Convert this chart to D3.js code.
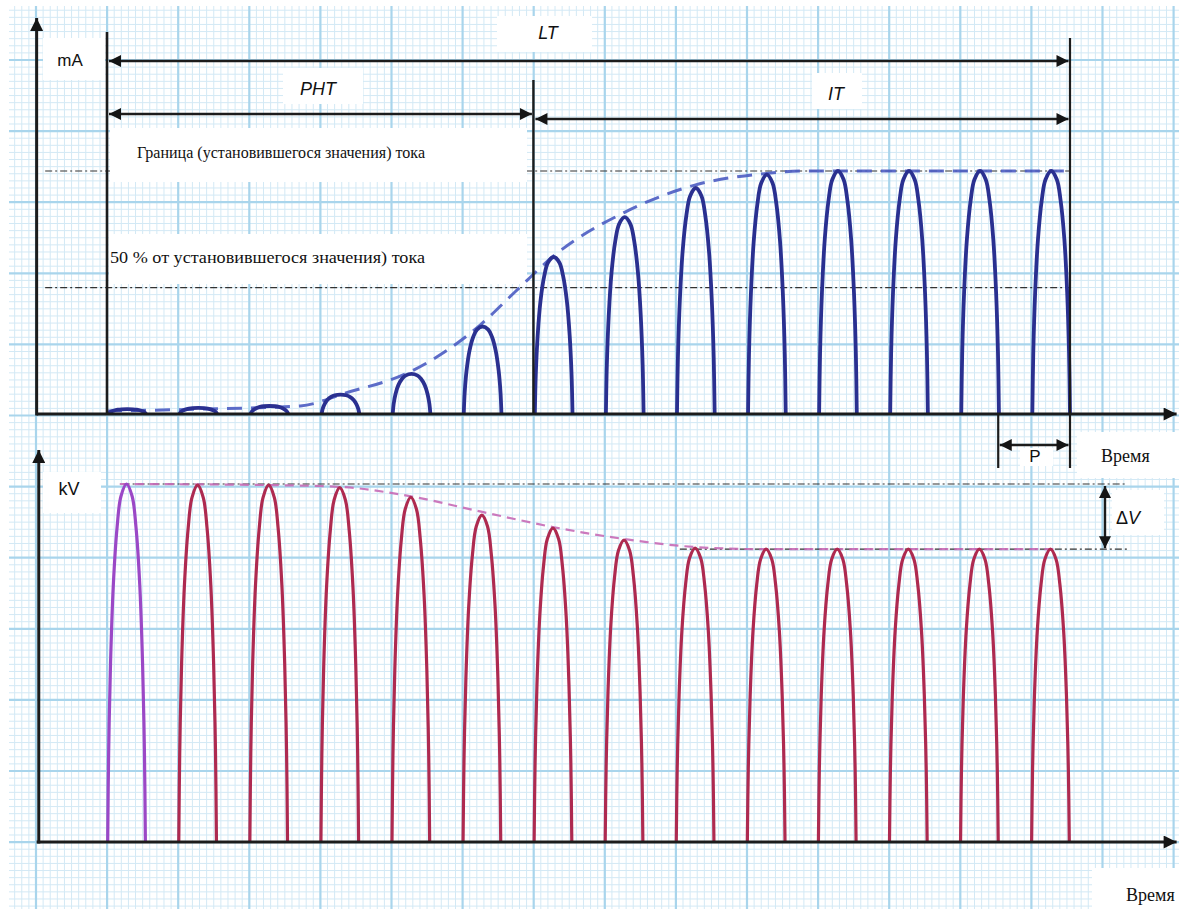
<!DOCTYPE html>
<html>
<head>
<meta charset="UTF-8">
<title>Ток и напряжение</title>
<style>
  html, body { margin: 0; padding: 0; background: #fff; }
  svg { display: block; }
  .serif { font-family: "Liberation Serif", "DejaVu Serif", serif; fill: #111; }
  .sans { font-family: "Liberation Sans", Arial, sans-serif; fill: #111; }
</style>
</head>
<body>
<div id="chart"></div>
<script src="https://d3js.org/d3.v7.min.js"></script>
<script>
// pulse number, time in periods P
const pulseIndex = [0, 1, 2, 3, 4, 5, 6, 7, 8, 9, 10, 11, 12, 13];
// peak current as share of the steady value
const currentPeaks = [0.02, 0.025, 0.033, 0.08, 0.165, 0.36, 0.646, 0.81, 0.93, 0.985, 1.0, 1.0, 1.0, 1.0];
// peak voltage as share of the no-load value
const voltagePeaks = [1.0, 0.997, 0.997, 0.99, 0.963, 0.913, 0.877, 0.843, 0.821, 0.818, 0.818, 0.818, 0.818, 0.818];

// dashed envelopes
const currentEnvT = [0, 1.31, 2.72, 3.35, 4.26, 5.25, 5.74, 6.3, 7.29, 8.27, 9.28, 9.75, 13.55];
const currentEnvV = [0.012, 0.02, 0.033, 0.086, 0.173, 0.366, 0.502, 0.654, 0.831, 0.942, 0.99, 1.0, 1.0];
const voltageEnvT = [0.18, 2.3, 3.28, 4.26, 5.28, 6.27, 7.29, 8.27, 9.2, 13.4];
const voltageEnvV = [1.0, 0.997, 0.992, 0.966, 0.922, 0.88, 0.846, 0.824, 0.818, 0.818];

// reference levels
const currentLevels = [1.0, 0.52];
const voltageLevels = [1.0, 0.818];

// time spans
const spanNames = ["LT", "PHT", "IT"];
const spanStart = [0, 0, 6];
const spanEnd = [13.55, 6, 13.55];

const W = 1179, H = 909;
const svg = d3.select("#chart").append("svg").attr("width", W).attr("height", H);

const x = d3.scaleLinear().domain([0, 13.55]).range([107, 1070]);
const yI = d3.scaleLinear().domain([0, 1]).range([414, 171]);
const yU = d3.scaleLinear().domain([0, 1]).range([842, 484]);

// graph paper
const step = 7.11;
const grid = svg.append("g");
const vx = d3.range(-3, 161).map(i => ({ p: 36 + i * step, major: i % 10 === 0 })).filter(d => d.p > 9 && d.p < W);
const hy = d3.range(-7, 122).map(i => ({ p: 60 + i * step, major: ((i % 10) + 10) % 10 === 0 })).filter(d => d.p > 6 && d.p < H);
[false, true].forEach(maj => {
  grid.selectAll(null).data(vx.filter(d => d.major === maj)).enter().append("line")
    .attr("x1", d => d.p).attr("x2", d => d.p).attr("y1", 6).attr("y2", H)
    .attr("stroke", maj ? "#a9d5ec" : "#d3e9f5").attr("stroke-width", maj ? 2.2 : 1);
  grid.selectAll(null).data(hy.filter(d => d.major === maj)).enter().append("line")
    .attr("y1", d => d.p).attr("y2", d => d.p).attr("x1", 9).attr("x2", W)
    .attr("stroke", maj ? "#a9d5ec" : "#d3e9f5").attr("stroke-width", maj ? 2.2 : 1);
});

// arrow heads
const defs = svg.append("defs");
function marker(id, w, h) {
  defs.append("marker").attr("id", id).attr("viewBox", "0 0 10 10")
    .attr("refX", 10).attr("refY", 5).attr("markerWidth", w).attr("markerHeight", h)
    .attr("markerUnits", "userSpaceOnUse").attr("orient", "auto-start-reverse")
    .append("path").attr("d", "M0,0L10,5L0,10z").attr("fill", "#151515");
}
marker("axisArrow", 16, 13);
marker("dimArrow", 17, 12);

const ink = "#1c1c1c";
function seg(x1, y1, x2, y2, w, opts) {
  const l = svg.append("line").attr("x1", x1).attr("y1", y1).attr("x2", x2).attr("y2", y2)
    .attr("stroke", ink).attr("stroke-width", w);
  if (opts && opts.start) l.attr("marker-start", "url(#" + opts.start + ")");
  if (opts && opts.end) l.attr("marker-end", "url(#" + opts.end + ")");
  if (opts && opts.dash) l.attr("stroke-dasharray", opts.dash).attr("stroke", "#333");
  return l;
}

// level lines (dash-dot)
const dashDot = "7,3,2,3";
currentLevels.forEach(v => seg(x(-0.87), yI(v), x(13.55), yI(v), 1.2, { dash: dashDot }));
seg(x(0.22), yU(voltageLevels[0]), x(14.35), yU(voltageLevels[0]), 1.2, { dash: dashDot });
seg(x(8.06), yU(voltageLevels[1]), x(14.35), yU(voltageLevels[1]), 1.2, { dash: dashDot });

// white label boxes
const boxes = [
  [497, 16, 95, 36], [283, 68, 80, 36], [812, 73, 50, 36], [43, 38, 62, 42],
  [110, 128, 417, 54], [109, 234, 418, 50],
  [1020, 448, 33, 18], [1077, 432, 102, 46], [1112, 490, 52, 45],
  [43, 472, 58, 41], [1092, 868, 87, 41]
];
svg.selectAll(null).data(boxes).enter().append("rect")
  .attr("x", d => d[0]).attr("y", d => d[1]).attr("width", d => d[2]).attr("height", d => d[3])
  .attr("fill", "#fff");

// pulse outline (normalised): steep sides, rounded top
const profile = [[0, 0], [0.025, 0.25], [0.075, 0.5], [0.15, 0.72], [0.25, 0.88], [0.35, 0.965],
  [0.5, 1], [0.65, 0.965], [0.75, 0.88], [0.85, 0.72], [0.925, 0.5], [0.975, 0.25], [1, 0]];
const pulseW = 0.53;
const line = d3.line().curve(d3.curveCatmullRom.alpha(0.5));

// envelopes
const envLine = d3.line().curve(d3.curveMonotoneX);
svg.append("path")
  .attr("d", envLine(currentEnvT.map((t, i) => [x(t), yI(currentEnvV[i])])))
  .attr("fill", "none").attr("stroke", "#4b5cc2").attr("stroke-width", 3)
  .attr("stroke-dasharray", "15,9").attr("stroke-opacity", 0.9);
svg.append("path")
  .attr("d", envLine(voltageEnvT.map((t, i) => [x(t), yU(voltageEnvV[i])])))
  .attr("fill", "none").attr("stroke", "#c66ab6").attr("stroke-width", 2.2)
  .attr("stroke-dasharray", "9,6").attr("stroke-opacity", 0.9);

// current pulses
svg.append("g").selectAll("path").data(pulseIndex).enter().append("path")
  .attr("d", k => line(profile.map(([u, v]) => [x(k + 0.02 + u * pulseW), yI(v * currentPeaks[k])])))
  .attr("fill", "none").attr("stroke", "#2a3090").attr("stroke-width", 3.8)
  .attr("stroke-linejoin", "round");

// voltage pulses
svg.append("g").selectAll("path").data(pulseIndex).enter().append("path")
  .attr("d", k => line(profile.map(([u, v]) => [x(k + 0.01 + u * pulseW), yU(v * voltagePeaks[k])])))
  .attr("fill", "none").attr("stroke", k => k === 0 ? "#9b48c6" : "#ae2a50").attr("stroke-width", 3.2)
  .attr("stroke-linejoin", "round");

// axes
seg(x(-0.99), yI(0), x(15.05), yI(0), 3, { end: "axisArrow" });
seg(x(-0.99), yI(0) + 1.5, x(-0.99), yI(1.63), 3, { end: "axisArrow" });
seg(x(-0.99), yU(0), x(15.05), yU(0), 3, { end: "axisArrow" });
seg(x(-0.96), yU(0) + 1.5, x(-0.96), yU(1.095), 3, { end: "axisArrow" });

// boundary lines
seg(x(0), 32, x(0), yI(0), 2.6);
seg(x(6), 80, x(6), yI(0), 2.4);
seg(x(13.55), 38, x(13.55), 468, 2.2);
seg(x(12.54), yI(0), x(12.54), 468, 2.2);

// span arrows
const spanY = [61, 114, 119];
spanNames.forEach((n, i) => {
  seg(x(spanStart[i]) + 2, spanY[i], x(spanEnd[i]) - 1.5, spanY[i], 2.6, { start: "dimArrow", end: "dimArrow" });
});
// P and ΔV arrows
seg(x(12.54) + 1.5, 445, x(13.55) - 1.5, 445, 2.4, { start: "dimArrow", end: "dimArrow" });
seg(1105, yU(voltageLevels[0]) + 2, 1105, yU(voltageLevels[1]) - 1, 2.4, { start: "dimArrow", end: "dimArrow" });

// labels
function label(txt, cls, px, py, size, anchor, italic) {
  return svg.append("text").attr("class", cls).attr("x", px).attr("y", py)
    .attr("font-size", size).attr("text-anchor", anchor || "start")
    .attr("font-style", italic ? "italic" : "normal").text(txt);
}
label("mA", "sans", 70, 66, 17, "middle");
label("kV", "sans", 69, 495, 18, "middle");
const spanLabelX = [548, 318, 836];
const spanLabelY = [39, 95, 100];
spanNames.forEach((n, i) => label(n, "sans", spanLabelX[i], spanLabelY[i], 18, "middle", true));
label("Граница (установившегося значения) тока", "serif", 137, 158, 16)
  .attr("textLength", 288).attr("lengthAdjust", "spacingAndGlyphs");
label("50 % от установившегося значения) тока", "serif", 110, 263, 16)
  .attr("textLength", 315).attr("lengthAdjust", "spacingAndGlyphs");
label("P", "sans", 1035, 462, 17, "middle");
label("Время", "serif", 1101, 462, 18);
label("Время", "serif", 1126, 901, 18);
const dv = label("Δ", "sans", 1116, 524, 18);
dv.append("tspan").attr("font-style", "italic").text("V");
</script>
</body>
</html>
